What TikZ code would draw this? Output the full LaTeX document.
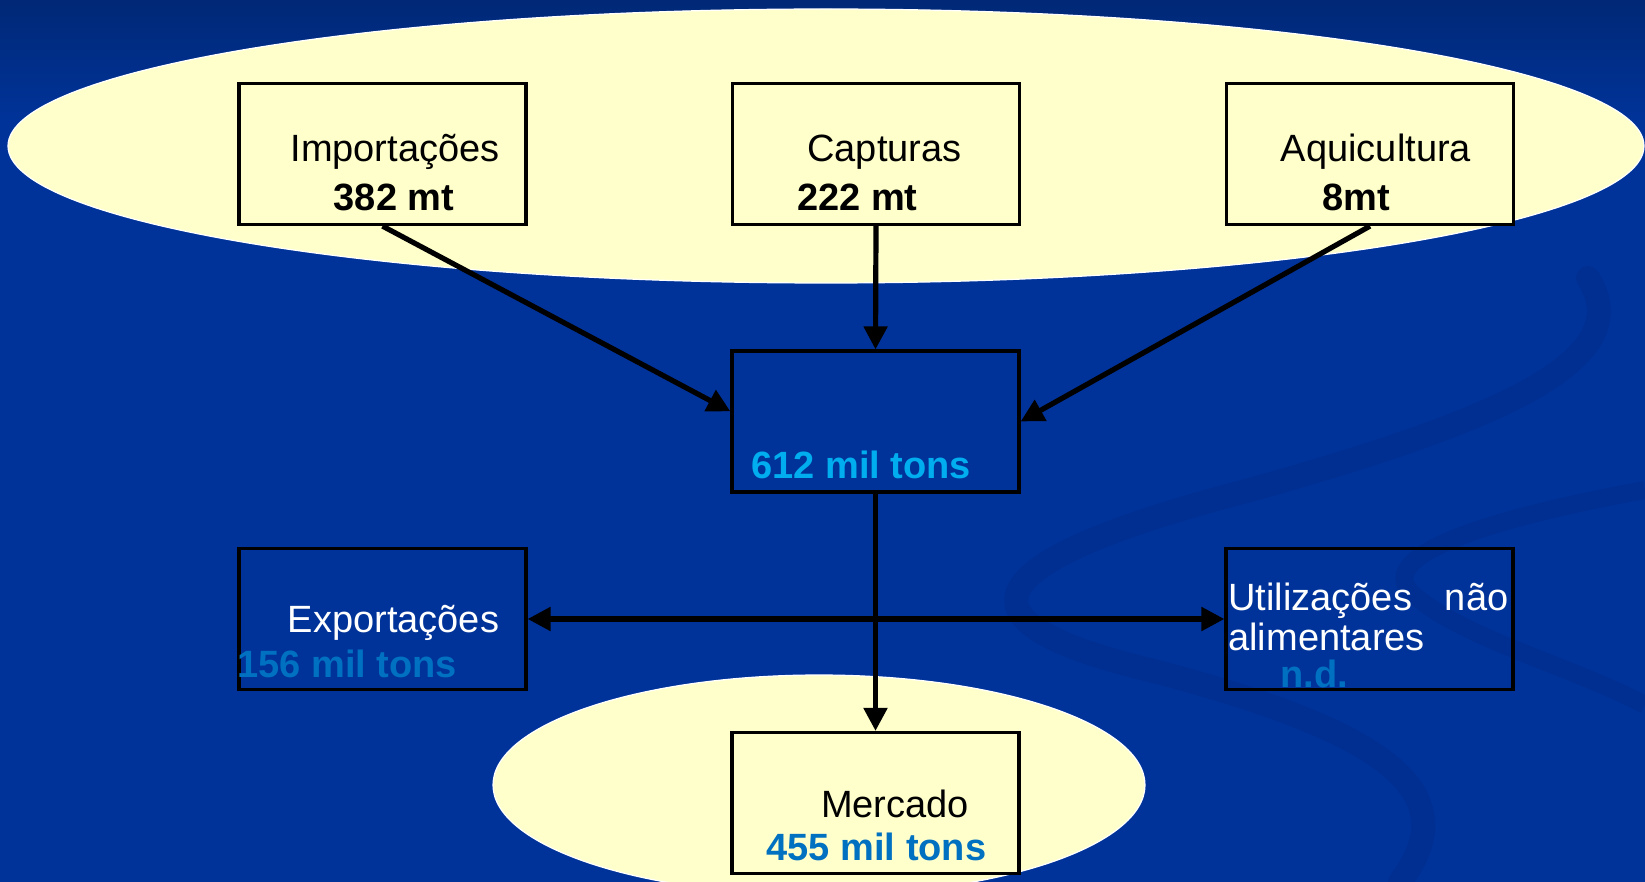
\documentclass[tikz,border=0pt]{standalone}
\usepackage{fontspec}
\setmainfont{Liberation Sans}
\usetikzlibrary{arrows.meta}

\definecolor{bgblue}{RGB}{0,51,153}
\definecolor{bgtop}{RGB}{0,40,118}
\definecolor{swoosh}{RGB}{0,47,145}
\definecolor{cream}{RGB}{255,255,204}
\definecolor{lightcyan}{RGB}{0,174,239}
\definecolor{midblue}{RGB}{0,112,192}

\tikzset{
  box/.style={draw=black, line width=1.6pt, minimum width=143.5pt, minimum height=70.5pt, inner sep=0pt},
  txt/.style={inner sep=0pt, anchor=base, font=\fontsize{19}{20}\selectfont},
  val/.style={txt, font=\fontsize{19}{20}\selectfont\bfseries},
  flow/.style={line width=2.6pt, -{Triangle[length=11.5pt,width=11.5pt]}},
}

\begin{document}
\begin{tikzpicture}[x=0.5pt, y=-0.5pt]
    % background
    \fill[bgblue] (0,0) rectangle (1645,882);
    \useasboundingbox (0,0) rectangle (1645,882);
    \shade[top color=bgtop, bottom color=bgblue] (0,0) rectangle (1645,120);

    % faint swooshes on the right
    \draw[swoosh, line width=12pt, line cap=round]
        (1588,278) .. controls (1640,360) and (1500,420) .. (1250,490)
        .. controls (980,560) and (940,620) .. (1150,670)
        .. controls (1380,730) and (1470,790) .. (1400,882);
    \draw[swoosh, line width=9pt]
        (1645,490) .. controls (1480,520) and (1360,560) .. (1420,600)
        .. controls (1470,640) and (1580,670) .. (1645,705);

    % ellipses
    \fill[cream, draw=white, line width=0.6pt] (826,146) ellipse [x radius=818, y radius=137];
    \fill[cream, draw=white, line width=0.6pt] (819,785) ellipse [x radius=326, y radius=110];

    % sources
    \node[box, fill=cream] (imp) at (382.5,154) {};
    \node[box, fill=cream] (cap) at (876,154) {};
    \node[box, fill=cream] (aqu) at (1370,154) {};
    \node[txt] (imp-t) at (395,162) {Importações};
    \node[val] (imp-v) at (394,211) {382 mt};
    \node[txt] (cap-t) at (884.5,162) {Capturas};
    \node[val] (cap-v) at (857.5,211) {222 mt};
    \node[txt] (aqu-t) at (1376,162) {Aquicultura};
    \node[val] (aqu-v) at (1356,211) {8mt};

    % total
    \node[box] (total) at (875.5,421.5) {};
    \node[val, anchor=base west, text=lightcyan] (total-v) at (751,478) {612 mil tons};

    % uses
    \node[box] (expo) at (382.5,619) {};
    \node[txt, text=white] (expo-t) at (393.5,632) {Exportações};
    \node[val, anchor=base west, text=midblue] (expo-v) at (237,677) {156 mil tons};

    \node[box] (util) at (1369.5,619) {};
    \node[txt, anchor=base west, text=white] (util-a) at (1228,610) {\makebox[140pt][s]{Utilizações não}};
    \node[txt, anchor=base west, text=white] (util-b) at (1228,650) {alimentares};
    \node[val, text=midblue] (util-v) at (1314,687) {n.d.};

    \node[box, fill=cream] (merc) at (875.5,803) {};
    \node[txt] (merc-t) at (895,817) {Mercado};
    \node[val, text=midblue] (merc-v) at (876.5,860) {455 mil tons};

    % flows
    \draw[flow] (imp.south) -- (total.176);
    \draw[flow] (cap.south) -- (total.north);
    \draw[flow] (aqu.south) -- (total.east);
    \coordinate (split) at (total.south |- expo.east);
    \draw[flow] (total.south) -- (merc.north);
    \draw[flow] (split) -- (expo.east);
    \draw[flow] (split) -- (util.west);
\end{tikzpicture}
\end{document}
